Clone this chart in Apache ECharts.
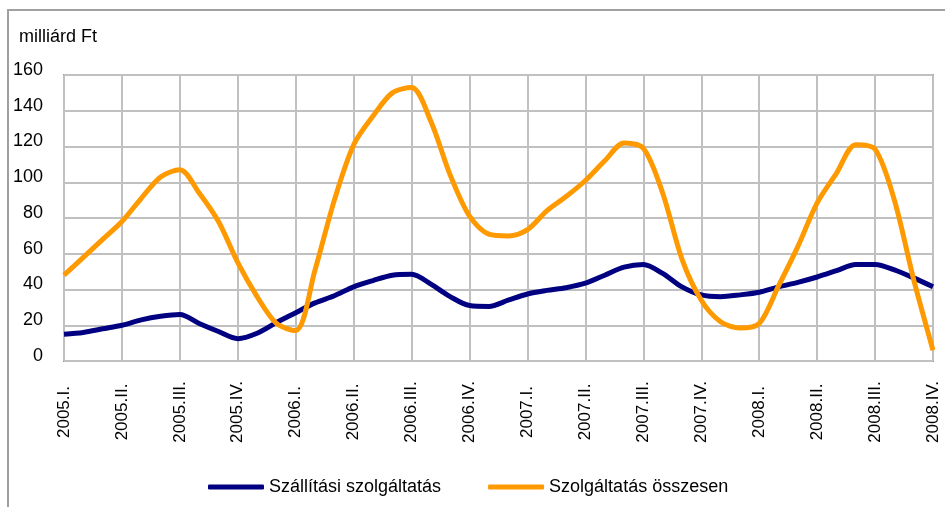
<!DOCTYPE html>
<html>
<head>
<meta charset="utf-8">
<script src="https://cdn.jsdelivr.net/npm/echarts@6/dist/echarts.min.js"></script>
<style>
  html, body { margin: 0; padding: 0; background: #fff; }
  #chart { width: 945px; height: 507px; }
</style>
</head>
<body>
<div id="chart"></div>
<script>
// quarter labels on the x axis (two monthly points in between each)
var quarters = ['2005.I.', '2005.II.', '2005.III.', '2005.IV.',
                '2006.I.', '2006.II.', '2006.III.', '2006.IV.',
                '2007.I.', '2007.II.', '2007.III.', '2007.IV.',
                '2008.I.', '2008.II.', '2008.III.', '2008.IV.'];

// milliárd Ft, monthly readings
var szallitasi = [15, 16, 18, 20, 23, 25, 26, 21, 16.5, 12.5, 15.5, 21.5,
                  27, 32.5, 36.5, 41.5, 45, 48, 48.5, 43, 36, 31, 30.5, 34,
                  37.5, 39.5, 41, 43.5, 48, 52.5, 54, 49, 41.5, 37, 36, 37,
                  38.5, 41.5, 44, 47, 50.5, 54, 54, 51, 46.5, 41.5];

var osszesen = [48, 58, 68, 78, 91, 103, 107, 94, 78, 55, 36, 21,
                17, 51, 90, 121, 137, 150, 153, 134, 104, 81, 71, 70,
                73.5, 84, 92, 101, 112, 122, 119, 94, 57, 34, 22, 18.5,
                21, 42, 64, 88.5, 105, 121, 118.5, 90, 45.5, 6];

var seriesNames = ['Szállítási szolgáltatás', 'Szolgáltatás összesen'];
var yTicks = { min: 0, max: 160, step: 20 };

var categories = [];
quarters.forEach(function (q, i) {
    categories.push(q);
    if (i < quarters.length - 1) { categories.push(''); categories.push(''); }
});

var font = 'Liberation Sans, Arial, sans-serif';
var chart = echarts.init(document.getElementById('chart'));

chart.setOption({
    animation: false,
    backgroundColor: '#fff',
    graphic: [{
        type: 'rect',
        shape: { x: 8, y: 10, width: 960, height: 520 },
        style: { fill: 'none', stroke: '#a0a0a0', lineWidth: 2 }
    }, {
        type: 'text',
        left: 19, top: 28,
        style: { text: 'milliárd Ft', font: '18px ' + font, fill: '#000' }
    }],
    grid: {
        left: 64, top: 75, right: 12, bottom: 146,
        show: true, borderColor: '#999', borderWidth: 2,
        containLabel: false
    },
    legend: {
        left: 203, top: 473,
        itemWidth: 56, itemHeight: 5, itemGap: 47,
        icon: 'roundRect',
        textStyle: { fontFamily: font, fontSize: 18, color: '#000' },
        data: seriesNames
    },
    xAxis: {
        type: 'category',
        data: categories,
        boundaryGap: false,
        axisLine: { show: false },
        axisTick: { show: false },
        axisLabel: {
            interval: 2, rotate: 90, align: 'center', margin: 51,
            fontFamily: font, fontSize: 17, color: '#000'
        },
        splitLine: { show: true, interval: 2, lineStyle: { color: '#c0c0c0', width: 2 } }
    },
    yAxis: {
        type: 'value',
        min: yTicks.min, max: yTicks.max, interval: yTicks.step,
        axisLine: { show: false },
        axisTick: { show: false },
        axisLabel: {
            margin: 21, verticalAlign: 'bottom', lineHeight: 10,
            fontFamily: font, fontSize: 18, color: '#000'
        },
        splitLine: { lineStyle: { color: '#c0c0c0', width: 2 } }
    },
    series: [{
        name: seriesNames[0], type: 'line', data: szallitasi,
        smooth: 0.3, showSymbol: false,
        lineStyle: { color: '#000080', width: 5 },
        itemStyle: { color: '#000080' }
    }, {
        name: seriesNames[1], type: 'line', data: osszesen,
        smooth: 0.3, showSymbol: false,
        lineStyle: { color: '#ff9900', width: 5 },
        itemStyle: { color: '#ff9900' }
    }]
});
</script>
</body>
</html>
